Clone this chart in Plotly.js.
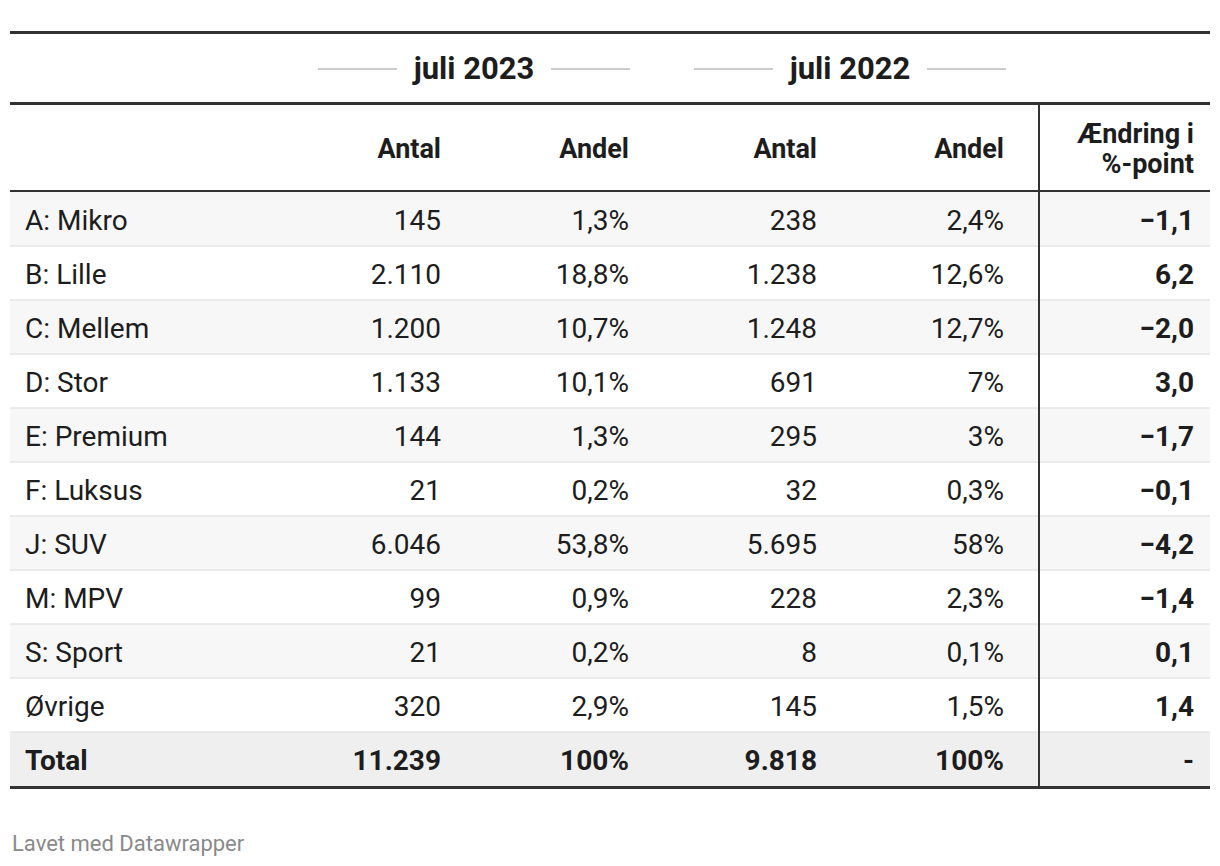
<!DOCTYPE html>
<html>
<head>
<meta charset="utf-8">
<script src="https://cdn.plot.ly/plotly-3.0.1.min.js"></script>
<style>
  html, body { margin: 0; padding: 0; background: #ffffff; }
  #chart { width: 1220px; height: 866px; }
</style>
</head>
<body>
<div id="chart"></div>
<script>
// ---- data ----
const categories = ['A: Mikro', 'B: Lille', 'C: Mellem', 'D: Stor', 'E: Premium', 'F: Luksus', 'J: SUV', 'M: MPV', 'S: Sport', 'Øvrige'];
const antal2023 = [145, 2110, 1200, 1133, 144, 21, 6046, 99, 21, 320];
const andel2023 = [1.3, 18.8, 10.7, 10.1, 1.3, 0.2, 53.8, 0.9, 0.2, 2.9];
const antal2022 = [238, 1238, 1248, 691, 295, 32, 5695, 228, 8, 145];
const andel2022 = [2.4, 12.6, 12.7, 7, 3, 0.3, 58, 2.3, 0.1, 1.5];
const changePts = [-1.1, 6.2, -2.0, 3.0, -1.7, -0.1, -4.2, -1.4, 0.1, 1.4];
const totalLabel = 'Total';
const totalAntal2023 = 11239;
const totalAndel2023 = 100;
const totalAntal2022 = 9818;
const totalAndel2022 = 100;
const totalChange = '-';
const groupHeaders = ['juli 2023', 'juli 2022'];
const columnHeaders = ['Antal', 'Andel', 'Antal', 'Andel', 'Ændring i<br>%-point'];
const footerText = 'Lavet med Datawrapper';

// ---- formatting ----
function fmtInt(n) {
  return String(Math.round(n)).replace(/\B(?=(\d{3})+(?!\d))/g, '.');
}
function fmtPct(n) {
  return String(Math.round(n * 10) / 10).replace('.', ',') + '%';
}
function fmtChange(n) {
  const s = Math.abs(n).toFixed(1).replace('.', ',');
  return (n < 0 ? '\u2212' : '') + s;
}

// ---- layout constants (pixels) ----
const W = 1220, H = 866;
const L = 10, R = 1210;
const TEXT = '#1d1d1d';
const FONT = 'Roboto, "Noto Sans", sans-serif';
const BODY = 28;
const HEAD = 27;
const DY = 3.5;            // baseline correction for 'middle' text
const rowTop = 192, rowH = 54;
const labelX = 25;
const colRight = [441, 629, 817, 1004, 1194];
const groupCenter = [474, 850];
const groupHalfGap = 77, groupLineLen = 79;
const headerY = 148;
const headerLineGap = 30;
const groupY = 68;
const sepX = 1039;

const nRows = categories.length + 1; // + total
const rowCenters = [];
for (let i = 0; i < nRows; i++) rowCenters.push(rowTop + rowH * i + rowH / 2);
const textYs = rowCenters.map(y => y + DY);

const rowsLabels = categories.concat([totalLabel]);
const columnsText = [
  antal2023.map(fmtInt).concat([fmtInt(totalAntal2023)]),
  andel2023.map(fmtPct).concat([fmtPct(totalAndel2023)]),
  antal2022.map(fmtInt).concat([fmtInt(totalAntal2022)]),
  andel2022.map(fmtPct).concat([fmtPct(totalAndel2022)]),
  changePts.map(fmtChange).concat([totalChange])
];

const traces = [];
function textTrace(xs, ys, texts, pos, weights, size) {
  return {
    type: 'scatter', mode: 'text', x: xs, y: ys, text: texts,
    textposition: pos, hoverinfo: 'skip', showlegend: false,
    textfont: { family: FONT, size: size, color: TEXT, weight: weights }
  };
}
const lastIdx = nRows - 1;
// labels
traces.push(textTrace(textYs.map(() => labelX), textYs, rowsLabels, 'middle right',
  textYs.map((_, i) => i === lastIdx ? 700 : 400), BODY));
// value columns
columnsText.forEach((col, c) => {
  traces.push(textTrace(textYs.map(() => colRight[c]), textYs, col, 'middle left',
    textYs.map((_, i) => (i === lastIdx || c === 4) ? 700 : 400), BODY));
});
// column headers (multi-line headers split into separate lines with tighter spacing)
const hx = [], hy = [], ht = [];
columnHeaders.forEach((h, c) => {
  const lines = h.split('<br>');
  lines.forEach((ln, k) => {
    hx.push(colRight[c]);
    hy.push(headerY + DY + (k - (lines.length - 1) / 2) * headerLineGap);
    ht.push(ln);
  });
});
traces.push(textTrace(hx, hy, ht, 'middle left', 700, HEAD));
// group headers
traces.push(textTrace(groupCenter, groupCenter.map(() => groupY + DY - 0.5), groupHeaders, 'middle center', 700, 31));

// ---- shapes ----
const shapes = [];
// row stripes
for (let i = 0; i < nRows; i++) {
  let fill = null;
  if (i === lastIdx) fill = '#efefef';
  else if (i % 2 === 0) fill = '#f7f7f7';
  if (fill) shapes.push({ type: 'rect', xref: 'x', yref: 'y', x0: L, x1: R,
    y0: rowTop + rowH * i, y1: rowTop + rowH * (i + 1), fillcolor: fill, line: { width: 0 }, layer: 'below' });
}
// row separators
for (let i = 1; i < nRows; i++) {
  shapes.push({ type: 'line', xref: 'x', yref: 'y', x0: L, x1: R,
    y0: rowTop + rowH * i, y1: rowTop + rowH * i, line: { color: '#e6e6e6', width: 1.5 }, layer: 'below' });
}
// thick rules
function hline(y, w, color) {
  shapes.push({ type: 'line', xref: 'x', yref: 'y', x0: L, x1: R, y0: y, y1: y, line: { color: color, width: w } });
}
hline(32.5, 3, '#333333');
hline(103.5, 3, '#333333');
hline(191, 2, '#333333');
hline(rowTop + rowH * nRows + 1.5, 3, '#333333');
// vertical separator
shapes.push({ type: 'line', xref: 'x', yref: 'y', x0: sepX, x1: sepX, y0: 105, y1: rowTop + rowH * nRows,
  line: { color: '#333333', width: 2 } });
// group header lines
groupCenter.forEach(cx => {
  [[cx - groupHalfGap - groupLineLen, cx - groupHalfGap], [cx + groupHalfGap, cx + groupHalfGap + groupLineLen]].forEach(seg => {
    shapes.push({ type: 'line', xref: 'x', yref: 'y', x0: seg[0], x1: seg[1], y0: groupY + 1, y1: groupY + 1,
      line: { color: '#cccccc', width: 2 } });
  });
});

const layout = {
  width: W, height: H,
  margin: { l: 0, r: 0, t: 0, b: 0, pad: 0 },
  paper_bgcolor: '#ffffff', plot_bgcolor: '#ffffff',
  xaxis: { range: [0, W], visible: false, fixedrange: true },
  yaxis: { range: [H, 0], visible: false, fixedrange: true },
  shapes: shapes,
  annotations: [{
    xref: 'x', yref: 'y', x: L, y: 843, xanchor: 'left', yanchor: 'middle',
    text: footerText, showarrow: false,
    font: { family: FONT, size: 22, color: '#8a8a8a' }
  }],
  showlegend: false
};

Plotly.newPlot('chart', traces, layout, { displayModeBar: false, staticPlot: true });
</script>
</body>
</html>
